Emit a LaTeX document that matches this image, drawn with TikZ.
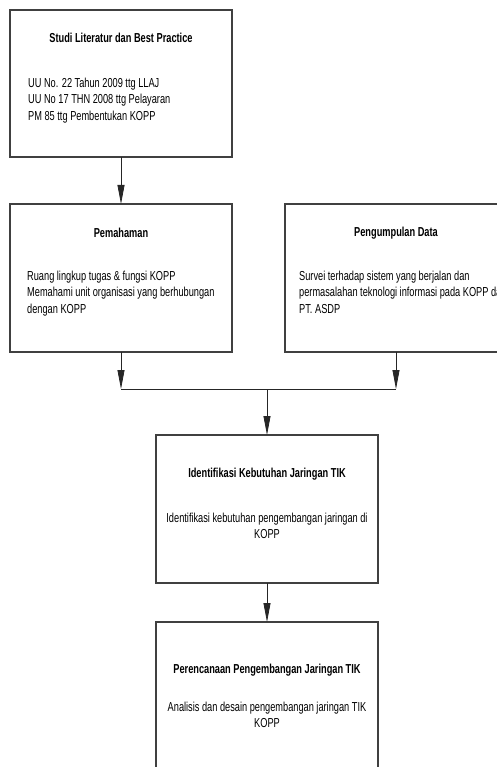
\documentclass[tikz,border=0pt]{standalone}
\usepackage{fontspec}
\setmainfont{Liberation Sans}[FakeStretch=0.71]
\usetikzlibrary{arrows.meta}

\begin{document}
\begin{tikzpicture}[x=1pt,y=-1pt,
  box/.style={draw=black!75, line width=1.3pt, minimum width=222pt,
              minimum height=148pt, inner sep=0pt, outer sep=0pt, anchor=north west},
  title/.style={font=\bfseries\fontsize{13}{16.3}\selectfont, inner sep=0pt},
  body/.style={font=\fontsize{13}{16.3}\selectfont, inner sep=0pt},
  conn/.style={draw=black!85, line width=0.8pt},
  arr/.style={conn, -{Triangle[length=19pt,width=7pt]}}]

\useasboundingbox (0,0) rectangle (497,767);
\clip (0,0) rectangle (497,767);

% process boxes
\node[box, minimum height=147pt] (studi) at (10,10) {};
\node[box] (paham) at (10,204) {};
\node[box] (data) at (285,204) {};
\node[box] (ident) at (156,435) {};
\node[box, minimum height=160pt] (renc) at (156,622) {};

% box texts
\node[title] (studiT) at (121,38) {Studi Literatur dan Best Practice};
\node[body, anchor=north west, align=left] (studiB) at (28,78)
  {UU No. 22 Tahun 2009 ttg LLAJ\\UU No 17 THN 2008 ttg Pelayaran\\PM 85 ttg Pembentukan KOPP};

\node[title] (pahamT) at (121,233) {Pemahaman};
\node[body, anchor=north west, align=left] (pahamB) at (27,271)
  {Ruang lingkup tugas \& fungsi KOPP\\Memahami unit organisasi yang berhubungan\\dengan KOPP};

\node[title] (dataT) at (396,233) {Pengumpulan Data};
\node[body, anchor=north west, align=left] (dataB) at (299,271)
  {Survei terhadap sistem yang berjalan dan\\permasalahan teknologi informasi pada KOPP dan\\PT. ASDP};

\node[title] (identT) at (267,474) {Identifikasi Kebutuhan Jaringan TIK};
\node[body, align=center] (identB) at (267,526)
  {Identifikasi kebutuhan pengembangan jaringan di\\KOPP};

\node[title] (rencT) at (267,670) {Perencanaan Pengembangan Jaringan TIK};
\node[body, align=center] (rencB) at (267,715)
  {Analisis dan desain pengembangan jaringan TIK\\KOPP};

% connectors
\coordinate (join) at (ident.north |- 0,389);
\draw[arr] (studi.south) -- (paham.north);
\draw[arr] (paham.south) -- (paham.south |- join);
\draw[arr] (data.south) -- (data.south |- join);
\draw[conn] (paham.south |- join) -- (data.south |- join);
\draw[arr] (join) -- (ident.north);
\draw[arr] (ident.south) -- (renc.north);
\end{tikzpicture}
\end{document}
